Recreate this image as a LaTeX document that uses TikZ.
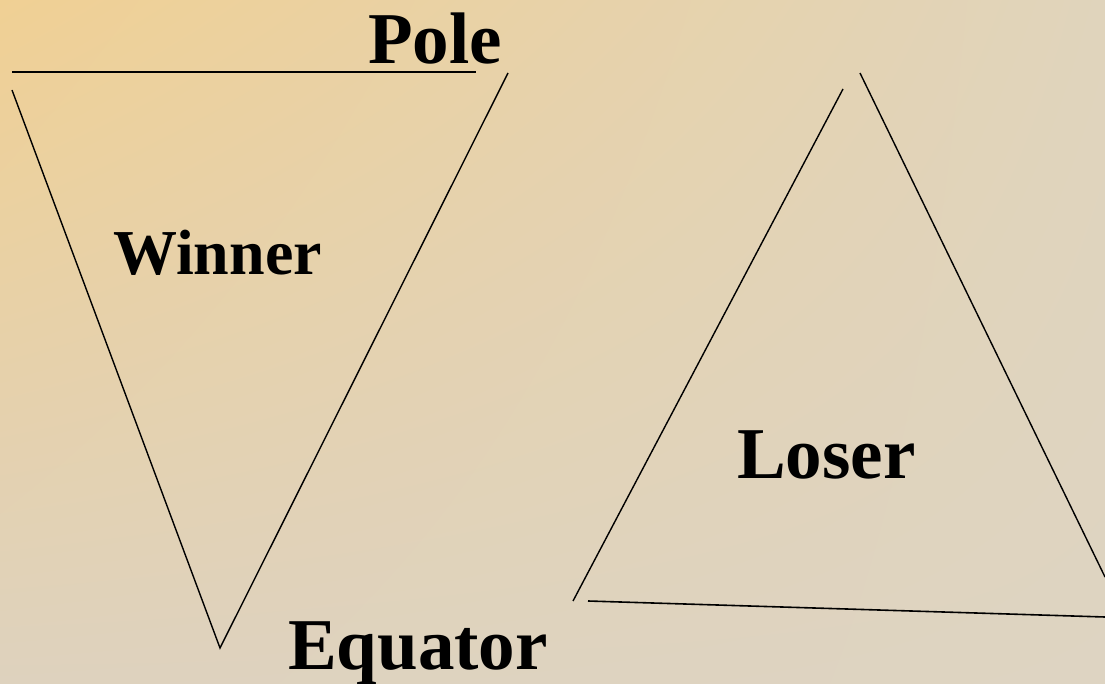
\documentclass[tikz,border=0pt]{standalone}
\usepackage{fontspec}
\setmainfont{Liberation Serif}
\usetikzlibrary{shadings}
\begin{document}
\begin{tikzpicture}[x=1pt,y=-1pt,
  lbl/.style={anchor=base west,inner sep=0pt,font=\bfseries\fontsize{73}{80}\selectfont},
  lblsmall/.style={anchor=base west,inner sep=0pt,font=\bfseries\fontsize{64}{70}\selectfont},
  edge/.style={line width=1.6pt,black},
  thinedge/.style={line width=1.4pt,black}]
\definecolor{ul}{RGB}{240,208,148}
\definecolor{ur}{RGB}{224,212,188}
\definecolor{ll}{RGB}{222,210,190}
\definecolor{lr}{RGB}{222,212,194}
\useasboundingbox (0,0) rectangle (1105,684);
\shade[upper left=ul,upper right=ur,lower left=ll,lower right=lr] (0,0) rectangle (1105,684);
% labels
\node[lbl] (pole) at (368,64) {Pole};
\node[lblsmall] (winner) at (113,275) {Winner};
\node[lbl] (loser) at (737,478) {Loser};
\node[lbl] (equator) at (288,669) {Equator};
% coordinates
\coordinate (pl) at (12,72);
\coordinate (pr) at (476,72);
\coordinate (wl) at (12,90);
\coordinate (wr) at (508,73);
\coordinate (wa) at (220,648);
\coordinate (lt1) at (843,89);
\coordinate (lb1) at (573,601);
\coordinate (lt2) at (860,73);
\coordinate (lr2) at (1105,577);
\coordinate (lb2) at (588,601);
\coordinate (lb3) at (1105,617);
% lines
\draw[edge] (pl) -- (pr);
\draw[thinedge] (wl) -- (wa) -- (wr);
\draw[thinedge] (lt1) -- (lb1);
\draw[thinedge] (lt2) -- (lr2);
\draw[edge] (lb2) -- (lb3);
\end{tikzpicture}
\end{document}
